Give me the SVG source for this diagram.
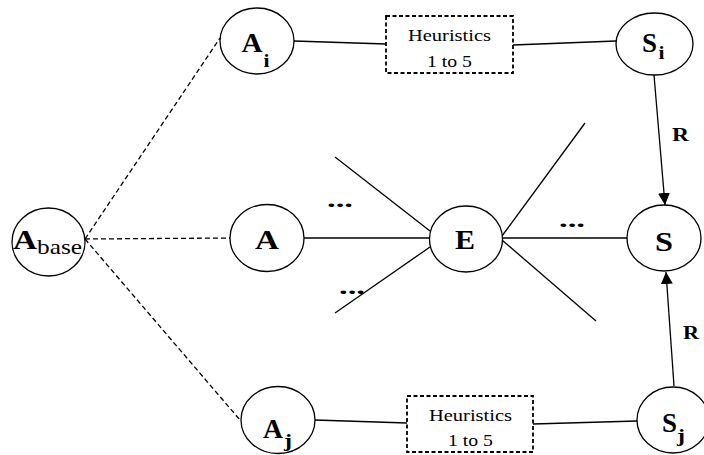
<svg xmlns="http://www.w3.org/2000/svg" width="704" height="455" viewBox="0 0 704 455">
<defs>
<style>
.n{fill:#fff;stroke:#000;stroke-width:1.3}
.l{fill:none;stroke:#000;stroke-width:1.3}
.d{fill:none;stroke:#000;stroke-width:1.3;stroke-dasharray:5,3}
.b{fill:#fff;stroke:#000;stroke-width:1.8;stroke-dasharray:4,2.5}
.t{font-family:Liberation Serif,DejaVu Serif,serif;fill:#000}
.big{font-size:27px;font-weight:bold}
.sub{font-size:19px;font-weight:bold}
.h{font-size:16px}
.r{font-size:19px;font-weight:bold}
.dots{font-size:20px;font-weight:bold}
</style>
<marker id="ah" viewBox="0 0 12 12" refX="12" refY="6" markerWidth="12" markerHeight="12" markerUnits="userSpaceOnUse" orient="auto">
<path d="M0,0 L12,6 L0,12 Z" fill="#000"/>
</marker>
</defs>
<rect width="704" height="455" fill="#fff"/>
<g id="connectors">
<line class="d" x1="85" y1="239" x2="220" y2="38"/>
<line class="d" x1="85" y1="239" x2="230" y2="238"/>
<line class="d" x1="85" y1="239" x2="240" y2="420"/>
<line class="l" x1="294" y1="41" x2="386" y2="44"/>
<line class="l" x1="513" y1="45" x2="616" y2="41"/>
<line class="l" x1="315" y1="420" x2="407" y2="423"/>
<line class="l" x1="533" y1="424" x2="637" y2="421"/>
<line class="l" x1="304" y1="238" x2="429" y2="238"/>
<line class="l" x1="502" y1="238" x2="627" y2="238"/>
<line class="l" x1="335" y1="157" x2="430" y2="231"/>
<line class="l" x1="335" y1="313" x2="430" y2="247"/>
<line class="l" x1="502" y1="236" x2="585" y2="123"/>
<line class="l" x1="502" y1="240" x2="596" y2="321"/>
<line class="l" x1="654" y1="75" x2="665" y2="205" marker-end="url(#ah)"/>
<line class="l" x1="674" y1="386" x2="666" y2="272" marker-end="url(#ah)"/>
<text class="t r" x="672" y="141" textLength="17" lengthAdjust="spacingAndGlyphs">R</text>
<text class="t r" x="683" y="339" textLength="16" lengthAdjust="spacingAndGlyphs">R</text>
<text class="t dots" x="327" y="207" textLength="26" lengthAdjust="spacingAndGlyphs">...</text>
<text class="t dots" x="339" y="294" textLength="26" lengthAdjust="spacingAndGlyphs">...</text>
<text class="t dots" x="559" y="227" textLength="26" lengthAdjust="spacingAndGlyphs">...</text>
</g>
<g id="Abase">
<ellipse class="n" cx="48.5" cy="242" rx="36.5" ry="34"/>
<text class="t big" x="13" y="249" textLength="24" lengthAdjust="spacingAndGlyphs">A</text>
<text class="t" x="37" y="254" font-size="22" textLength="45" lengthAdjust="spacingAndGlyphs">base</text>
</g>
<g id="Ai">
<ellipse class="n" cx="257" cy="41" rx="37" ry="33"/>
<text class="t big" x="241.5" y="52" textLength="21" lengthAdjust="spacingAndGlyphs">A</text>
<text class="t sub" x="263.5" y="67" textLength="6" lengthAdjust="spacingAndGlyphs">i</text>
</g>
<g id="A">
<ellipse class="n" cx="267" cy="238" rx="37" ry="33.5"/>
<text class="t big" x="255" y="249" textLength="24" lengthAdjust="spacingAndGlyphs">A</text>
</g>
<g id="Aj">
<ellipse class="n" cx="278" cy="420" rx="37" ry="33.5"/>
<text class="t big" x="263" y="438" textLength="20" lengthAdjust="spacingAndGlyphs">A</text>
<text class="t sub" x="284" y="447" textLength="8" lengthAdjust="spacingAndGlyphs">j</text>
</g>
<g id="H1">
<rect class="b" x="386" y="16" width="127" height="57"/>
<text class="t h" x="408" y="41" textLength="83" lengthAdjust="spacingAndGlyphs">Heuristics</text>
<text class="t h" x="427" y="67" textLength="45" lengthAdjust="spacingAndGlyphs">1 to 5</text>
</g>
<g id="H2">
<rect class="b" x="407" y="396" width="126" height="56"/>
<text class="t h" x="429" y="421" textLength="83" lengthAdjust="spacingAndGlyphs">Heuristics</text>
<text class="t h" x="448" y="446" textLength="45" lengthAdjust="spacingAndGlyphs">1 to 5</text>
</g>
<g id="E">
<ellipse class="n" cx="466" cy="239" rx="36.5" ry="33"/>
<text class="t big" x="455" y="249" textLength="20" lengthAdjust="spacingAndGlyphs">E</text>
</g>
<g id="Si">
<ellipse class="n" cx="654.5" cy="44" rx="38.5" ry="31"/>
<text class="t big" x="642" y="52" textLength="15" lengthAdjust="spacingAndGlyphs">S</text>
<text class="t sub" x="658.5" y="59" textLength="6" lengthAdjust="spacingAndGlyphs">i</text>
</g>
<g id="S">
<ellipse class="n" cx="664" cy="238" rx="37" ry="33"/>
<text class="t big" x="655" y="251" textLength="18" lengthAdjust="spacingAndGlyphs">S</text>
</g>
<g id="Sj">
<ellipse class="n" cx="673" cy="420" rx="36" ry="33"/>
<text class="t big" x="662" y="432" textLength="15" lengthAdjust="spacingAndGlyphs">S</text>
<text class="t sub" x="677" y="442" textLength="8" lengthAdjust="spacingAndGlyphs">j</text>
</g>
</svg>
